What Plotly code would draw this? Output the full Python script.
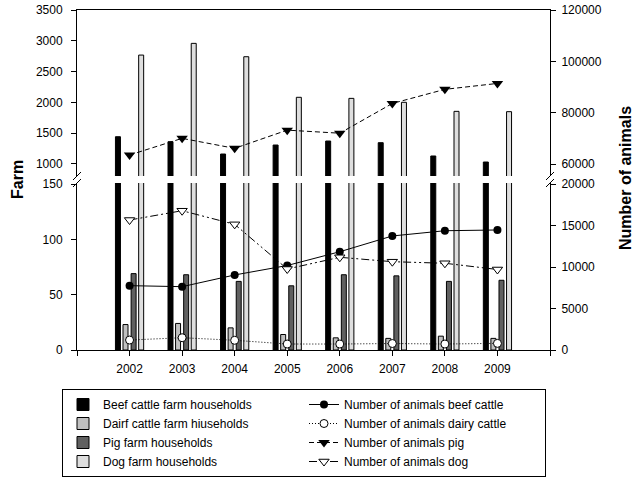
import plotly.graph_objects as go

years = [2002, 2003, 2004, 2005, 2006, 2007, 2008, 2009]

beef_farm = [1443, 1362, 1162, 1308, 1373, 1346, 1130, 1032]
dairy_farm = [23, 24, 20, 14, 11, 10.5, 12.5, 10.5]
pig_farm = [69, 68, 62, 58, 68, 67, 62, 63]
dog_farm = [2769, 2959, 2742, 2083, 2066, 2002, 1855, 1850]

beef_animals = [7750, 7630, 9040, 10180, 11840, 13740, 14370, 14460]
dairy_animals = [1200, 1480, 1170, 720, 720, 780, 720, 800]
pig_animals = [63500, 70000, 66100, 73200, 72000, 83600, 89100, 91400]
dog_animals = [15660, 16780, 15140, 9760, 11170, 10640, 10450, 9700]

x_tickvals = [2001, 2002, 2003, 2004, 2005, 2006, 2007, 2008, 2009, 2010]
x_ticktext = ["", "2002", "2003", "2004", "2005", "2006", "2007", "2008", "2009", ""]
left_low_ticks = [0, 50, 100, 150]
left_up_ticks = [1000, 1500, 2000, 2500, 3000, 3500]
right_low_ticks = [0, 5000, 10000, 15000, 20000]
right_up_ticks = [60000, 80000, 100000, 120000]

W, H = 641, 478
ML, MT = 77, 10
MR = W - 550
MB = H - 350
plot_w = W - ML - MR
plot_h = H - MT - MB
low_top = (350 - 183) / plot_h
up_bot = (350 - 176) / plot_h

FONT = "Liberation Sans, Arial, sans-serif"
BW = 0.095
centers = [-0.221, -0.077, 0.077, 0.221]
offs = [c - BW / 2 for c in centers]

fig = go.Figure()

def bar(name, vals, color, off, xa, ya, show):
    return go.Bar(name=name, x=years, y=vals, xaxis=xa, yaxis=ya, width=BW, offset=off,
                  marker=dict(color=color, line=dict(color="black", width=1)),
                  showlegend=show)

# legend order: alternating bar / line so two columns appear
fig.add_trace(bar("Beef cattle farm households", beef_farm, "black", offs[0], "x", "y", True))
fig.add_trace(go.Scatter(name="Number of animals beef cattle", x=years, y=beef_animals, xaxis="x", yaxis="y2",
                         mode="lines+markers", line=dict(color="black", width=1),
                         marker=dict(symbol="circle", size=8, color="black")))
fig.add_trace(bar("Dairf cattle farm hiuseholds", dairy_farm, "#c0c0c0", offs[1], "x", "y", True))
fig.add_trace(go.Scatter(name="Number of animals dairy cattle", x=years, y=dairy_animals, xaxis="x", yaxis="y2",
                         mode="lines+markers", line=dict(color="black", width=1, dash="1px,2px"),
                         marker=dict(symbol="circle", size=8, color="white", line=dict(color="black", width=1))))
fig.add_trace(bar("Pig farm households", pig_farm, "#606060", offs[2], "x", "y", True))
fig.add_trace(go.Scatter(name="Number of animals pig", x=years, y=pig_animals, xaxis="x2", yaxis="y4",
                         mode="lines+markers", line=dict(color="black", width=1, dash="5px,3px"),
                         marker=dict(symbol="triangle-down", size=10, color="black")))
fig.add_trace(bar("Dog farm households", dog_farm, "#dedede", offs[3], "x", "y", True))
fig.add_trace(go.Scatter(name="Number of animals dog", x=years, y=dog_animals, xaxis="x", yaxis="y2",
                         mode="lines+markers", line=dict(color="black", width=1, dash="8px,3px,2px,3px,2px,3px"),
                         marker=dict(symbol="triangle-down", size=9, color="white", line=dict(color="black", width=1))))

# upper segment bars
fig.add_trace(bar("Beef cattle farm households", beef_farm, "black", offs[0], "x2", "y3", False))
fig.add_trace(bar("Dog farm households", dog_farm, "#dedede", offs[3], "x2", "y3", False))

axfont = dict(family=FONT, size=12, color="black")
common_y = dict(showline=True, linecolor="black", linewidth=1, ticks="outside", ticklen=5,
                tickcolor="black", showgrid=False, zeroline=False, tickfont=axfont, tickmode="array",
                tickformat="d", ticklabeloverflow="allow")

fig.update_layout(
    width=W, height=H,
    margin=dict(l=ML, r=MR, t=MT, b=MB, autoexpand=False),
    paper_bgcolor="white", plot_bgcolor="white",
    barmode="overlay",
    font=dict(family=FONT, size=12, color="black"),
    xaxis=dict(domain=[0, 1], anchor="y", range=[2001, 2010], tickmode="array",
               tickvals=x_tickvals, ticktext=x_ticktext, ticks="outside", ticklen=5,
               tickcolor="black", showline=True, linecolor="black", showgrid=False,
               zeroline=False, tickfont=axfont, ticklabelstandoff=3),
    xaxis2=dict(domain=[0, 1], anchor="y3", matches="x", side="top", showticklabels=False,
                ticks="", showline=True, linecolor="black", showgrid=False, zeroline=False),
    yaxis=dict(domain=[0, low_top], anchor="x", range=[0, 150.9], tickvals=left_low_ticks,
               ticklabelstandoff=6, **common_y),
    yaxis2=dict(overlaying="y", side="right", anchor="x", range=[0, 20120],
                tickvals=right_low_ticks, ticklabelstandoff=3, **common_y),
    yaxis3=dict(domain=[up_bot, 1], anchor="x2", range=[805, 3501], tickvals=left_up_ticks,
                ticklabelstandoff=6, **common_y),
    yaxis4=dict(overlaying="y3", side="right", anchor="x2", range=[55325, 120020],
                tickvals=right_up_ticks, ticklabelstandoff=3, **common_y),
    legend=dict(orientation="h", x=(62 - 77) / plot_w, y=(350 - 389) / plot_h,
                xanchor="left", yanchor="top", entrywidth=196, entrywidthmode="pixels",
                bordercolor="black", borderwidth=1, bgcolor="white",
                font=dict(family=FONT, size=12, color="black"), traceorder="normal"),
    annotations=[
        dict(text="<b>Farm</b>", xref="paper", yref="paper", x=(17 - 77) / plot_w,
             y=(350 - 180) / plot_h, textangle=-90, showarrow=False,
             font=dict(family=FONT, size=16, color="black"), xanchor="center", yanchor="middle"),
        dict(text="<b>Number of animals</b>", xref="paper", yref="paper",
             x=(625 - 77) / plot_w, y=(350 - 178) / plot_h, textangle=-90, showarrow=False,
             font=dict(family=FONT, size=16, color="black"), xanchor="center", yanchor="middle"),
    ],
)

# axis break marks
shapes = []
for xp in (0, 1):
    for yp in (up_bot, low_top):
        shapes.append(dict(type="line", xref="paper", yref="paper", xsizemode="pixel", ysizemode="pixel",
                           xanchor=xp, yanchor=yp, x0=-4, x1=4, y0=-4, y1=4,
                           line=dict(color="black", width=1)))
fig.update_layout(shapes=shapes)

# remove the browser's default 8px body margin so the figure sits at the page origin
fig.write_html("out.html", config={"displayModeBar": False},
               post_script="document.body.style.margin='0';")
